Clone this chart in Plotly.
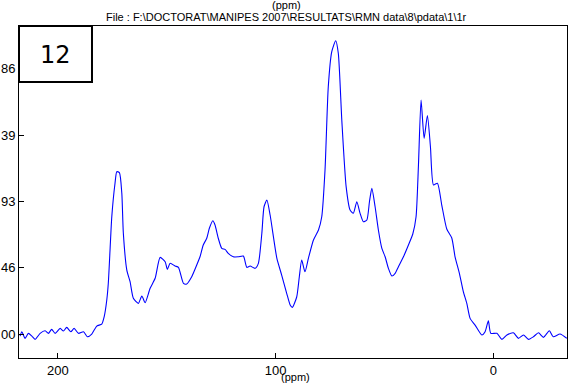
import plotly.graph_objects as go

# ---- spectrum (ppm, intensity) ----
ppm = [217.3, 216.5, 215.0, 213.5, 211.9, 210.4, 208.1, 205.8, 204.3, 202.8,
       201.2, 198.9, 197.4, 195.9, 194.0, 192.5, 190.5, 188.2, 186.4, 184.4,
       182.1, 179.8, 178.7, 177.5, 176.8, 176.0, 175.2, 173.7, 172.9, 171.7,
       170.6, 169.9, 168.3, 166.8, 165.3, 163.0, 161.4, 159.9, 157.6, 155.3,
       153.0, 150.7, 149.7, 148.4, 146.1, 144.6, 142.3, 140.8, 138.5, 136.2,
       134.7, 133.2, 131.6, 130.4, 128.8, 127.8, 126.3, 124.7, 123.2, 121.7,
       119.4, 117.1, 114.8, 113.2, 111.7, 109.4, 107.9, 106.3, 105.3, 104.0,
       102.5, 101.0, 99.4, 97.2, 94.9, 93.3, 92.3, 90.3, 89.1, 88.0,
       86.5, 84.9, 82.6, 80.3, 78.8, 77.3, 75.8, 74.2, 72.4, 71.2,
       69.6, 67.6, 65.8, 64.3, 62.7, 61.2, 59.7, 58.1, 56.9, 55.8,
       54.3, 52.8, 51.2, 49.7, 48.2, 46.6, 45.1, 43.6, 41.3, 39.0,
       37.0, 35.5, 34.4, 33.2, 31.8, 30.3, 28.9, 27.5, 25.7, 23.7,
       21.4, 19.1, 17.6, 15.6, 13.8, 12.2, 10.7, 8.4, 5.3, 3.8,
       2.3, 1.2, -1.6, -3.9, -6.2, -9.2, -11.5, -13.8, -16.1, -18.4,
       -20.7, -23.0, -25.7, -27.5, -30.6, -33.7]

intensity = [-0.014, 0.016, -0.030, 0.005, -0.014, -0.037, 0.005, 0.023, 0.005, 0.033,
             0.005, 0.040, 0.021, 0.047, 0.016, 0.040, 0.005, 0.016, -0.019, 0.000,
             0.056, 0.070, 0.121, 0.239, 0.356, 0.589, 0.823, 1.060, 1.139, 1.132,
             0.989, 0.709, 0.449, 0.367, 0.251, 0.215, 0.267, 0.220, 0.321, 0.391,
             0.538, 0.507, 0.454, 0.496, 0.477, 0.468, 0.356, 0.351, 0.402, 0.484,
             0.542, 0.625, 0.672, 0.742, 0.795, 0.765, 0.672, 0.601, 0.594, 0.566,
             0.542, 0.542, 0.547, 0.468, 0.477, 0.461, 0.496, 0.707, 0.893, 0.940,
             0.835, 0.683, 0.531, 0.414, 0.286, 0.204, 0.187, 0.260, 0.402, 0.519,
             0.437, 0.533, 0.660, 0.730, 0.823, 1.151, 1.735, 1.981, 2.058, 1.970,
             1.502, 1.034, 0.870, 0.847, 0.928, 0.847, 0.788, 0.800, 0.928, 1.022,
             0.893, 0.730, 0.601, 0.542, 0.461, 0.407, 0.426, 0.472, 0.542, 0.625,
             0.702, 0.823, 1.186, 1.642, 1.373, 1.533, 1.314, 1.046, 1.058, 0.905,
             0.737, 0.674, 0.542, 0.426, 0.297, 0.215, 0.110, 0.063, -0.007, 0.016,
             0.093, 0.005, 0.005, -0.037, -0.007, 0.009, -0.030, -0.007, -0.037, -0.019,
             0.009, -0.023, 0.023, -0.019, 0.000, -0.030]

x_ticks = [200, 100, 0]
y_ticks = [0, 0.465, 0.93, 1.395, 1.86]
y_tick_text = ["00", "46", "93", "39", "86"]

title_file = "File : F:\\DOCTORAT\\MANIPES 2007\\RESULTATS\\RMN data\\8\\pdata\\1\\1r"
panel_label = "12"

fig = go.Figure()
fig.add_trace(go.Scatter(
    x=ppm, y=intensity, mode='lines',
    line=dict(color='#0000FF', width=1.1, shape='spline', smoothing=0.6),
    showlegend=False
))

axis_font = dict(family="Liberation Sans, Arial, sans-serif", size=13, color='black')

fig.update_xaxes(
    range=[217.8, -33.8],
    tickvals=x_ticks,
    ticks='inside', ticklen=5, tickcolor='black',
    showline=True, linecolor='black', linewidth=1, mirror=True,
    showgrid=False, zeroline=False, automargin=False,
    tickfont=axis_font,
)
fig.update_yaxes(
    range=[-0.168, 2.161],
    tickvals=y_ticks, ticktext=y_tick_text,
    ticks='inside', ticklen=5, tickcolor='black',
    showline=True, linecolor='black', linewidth=1, mirror=True,
    showgrid=False, zeroline=False, automargin=False,
    tickfont=axis_font,
)

small_font = dict(family="Liberation Sans, Arial, sans-serif", size=11, color='black')

# titres
fig.add_annotation(text="(ppm)", xref='paper', yref='paper', x=0.488, y=1.0,
                   yshift=21, showarrow=False, font=small_font,
                   xanchor='center', yanchor='middle')
fig.add_annotation(text=title_file, xref='paper', yref='paper', x=0.488, y=1.0,
                   yshift=9, showarrow=False, font=small_font,
                   xanchor='center', yanchor='middle')
fig.add_annotation(text="(ppm)", xref='paper', yref='paper', x=0.505, y=0.0,
                   yshift=-19, showarrow=False, font=small_font,
                   xanchor='center', yanchor='middle')

# cadre "12"
fig.add_shape(type='rect', xref='paper', yref='paper',
              x0=0.0, x1=0.1332, y0=0.831, y1=1.0,
              line=dict(color='black', width=2), fillcolor='white')
fig.add_annotation(text=panel_label, xref='paper', yref='paper', x=0.0666, y=0.914,
                   showarrow=False, xanchor='center', yanchor='middle',
                   font=dict(family="DejaVu Sans, sans-serif", size=24, color='black'))

fig.update_layout(
    width=572, height=385,
    margin=dict(l=19, r=5, t=26, b=27),
    paper_bgcolor='white', plot_bgcolor='white',
    showlegend=False,
)

# page sans marge pour que la figure commence au coin
fig.write_html("out.html",
               config={'displayModeBar': False},
               post_script="document.body.style.margin='0';document.body.style.overflow='hidden';")
